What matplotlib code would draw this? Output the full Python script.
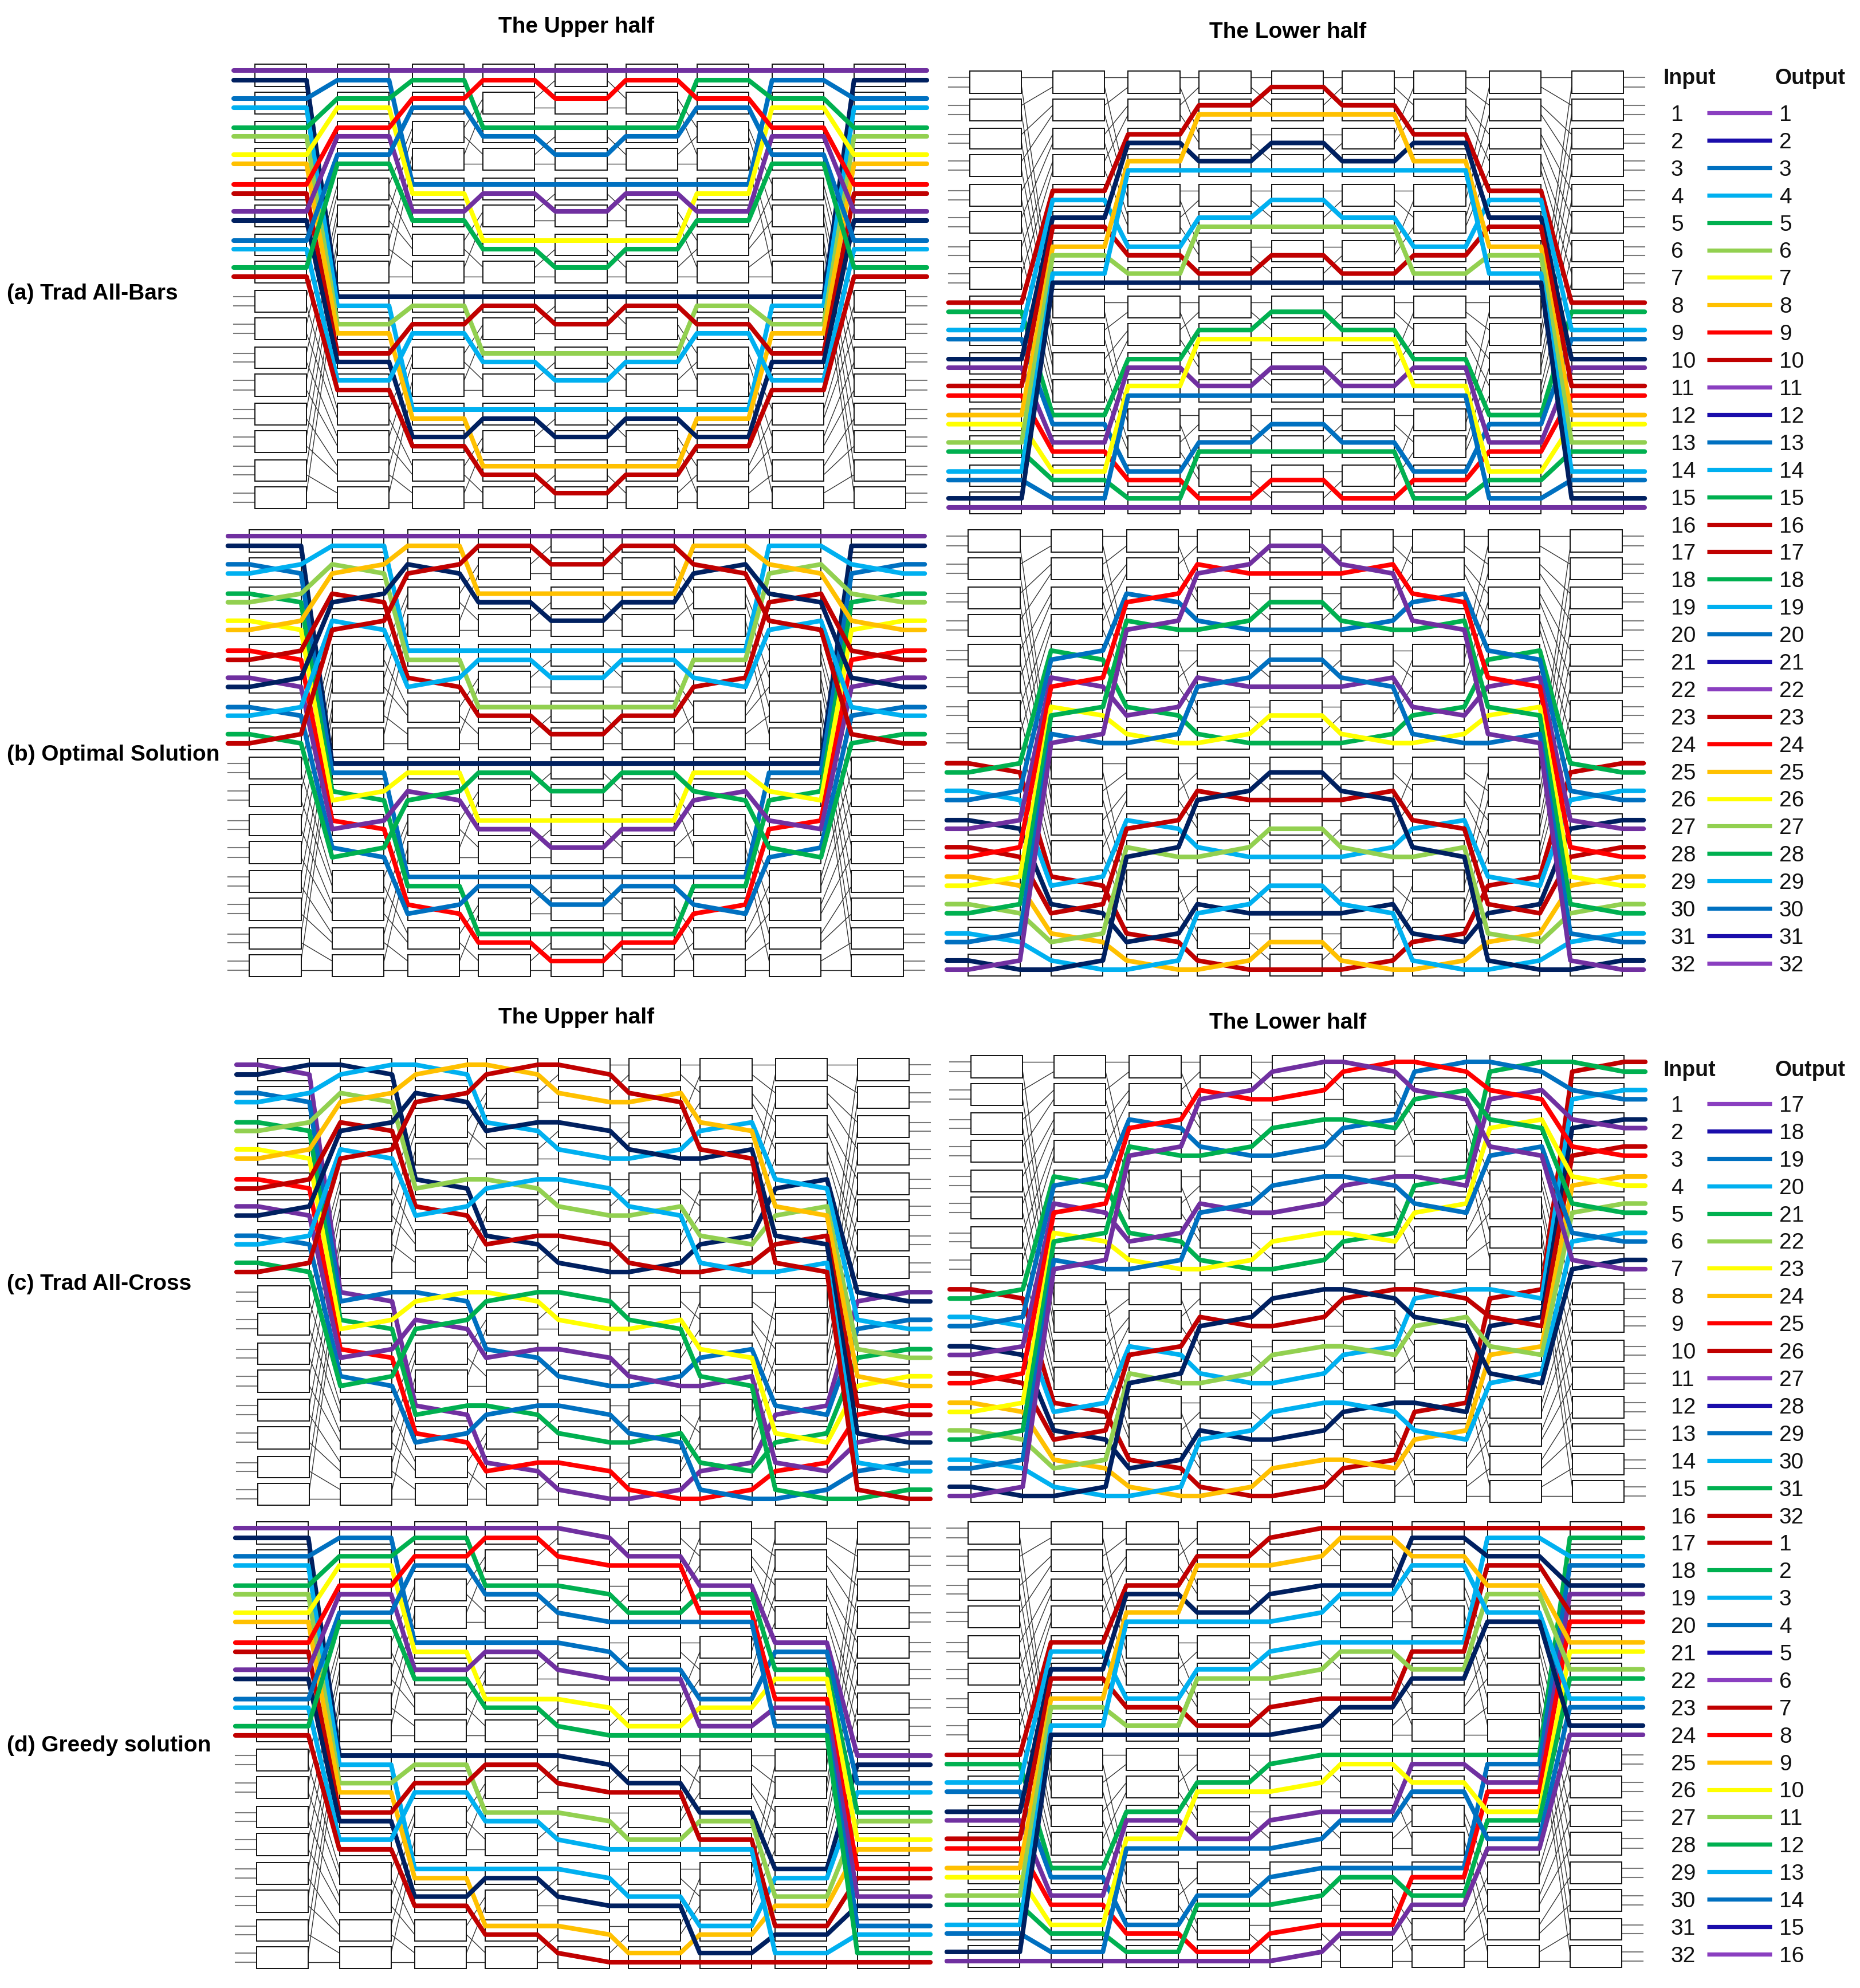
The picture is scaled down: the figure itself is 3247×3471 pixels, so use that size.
import matplotlib
matplotlib.use('Agg')
import matplotlib.pyplot as plt
from matplotlib.patches import Rectangle

W, H = 3248, 3471
plt.rcParams['font.family'] = ['Liberation Sans', 'DejaVu Sans']

# colours of the 32 inputs
PURPLE = '#7030A0'
NAVY = '#002060'
BLUE = '#0070C0'
CYAN = '#00B0F0'
GREEN = '#00B050'
LIME = '#92D050'
YELLOW = '#FFFF00'
ORANGE = '#FFC000'
RED = '#FF0000'
DARKRED = '#C00000'

upper_colors = [PURPLE, NAVY, BLUE, CYAN, GREEN, LIME, YELLOW, ORANGE,
                RED, DARKRED, PURPLE, NAVY, BLUE, CYAN, GREEN, DARKRED]
lower_colors = [DARKRED, GREEN, CYAN, BLUE, NAVY, PURPLE, DARKRED, RED,
                ORANGE, YELLOW, LIME, GREEN, CYAN, BLUE, NAVY, PURPLE]
legend_colors = ['#8A3FC0', '#1A0DAB', BLUE, CYAN, GREEN, LIME, YELLOW, ORANGE,
                 RED, DARKRED, '#8A3FC0', '#1A0DAB', BLUE, CYAN, GREEN, DARKRED,
                 DARKRED, GREEN, CYAN, BLUE, '#1A0DAB', '#8A3FC0', DARKRED, RED,
                 ORANGE, YELLOW, LIME, GREEN, CYAN, BLUE, '#1A0DAB', '#8A3FC0']

inputs = list(range(1, 33))
outputs_straight = list(range(1, 33))
outputs_swapped = list(range(17, 33)) + list(range(1, 17))

# which boxes are switched to cross, per stage (9 stages, 16 boxes each)
ALL_BOXES = list(range(16))
a_upper_crossed = [[], [], [], [], [], [], [], [], []]
a_lower_crossed = [[], [], [], [], [], [], [], [], []]
b_upper_crossed = [[1, 2, 3, 4, 5, 6, 7], [1, 2, 3, 9, 10, 11], [1, 5, 9, 13], [], [],
                   [], [1, 5, 9, 13], [1, 2, 3, 9, 10, 11], [1, 2, 3, 4, 5, 6, 7]]
b_lower_crossed = [[8, 9, 10, 11, 12, 13, 14, 15], [4, 5, 6, 7, 12, 13, 14, 15],
                   [2, 3, 6, 7, 10, 11, 14, 15], [1, 3, 5, 7, 9, 11, 13, 15], [],
                   [1, 3, 5, 7, 9, 11, 13, 15], [2, 3, 6, 7, 10, 11, 14, 15],
                   [4, 5, 6, 7, 12, 13, 14, 15], [8, 9, 10, 11, 12, 13, 14, 15]]
c_upper_crossed = [ALL_BOXES] * 9
c_lower_crossed = [ALL_BOXES] * 9
d_upper_crossed = [[], [], [], [], ALL_BOXES, [], [], [], []]
d_lower_crossed = [[], [], [], [], ALL_BOXES, [], [], [], []]

# port height inside a panel, and left edge of the stages
LEVELS = [0, 17, 49, 65, 100, 115, 147, 163, 199, 215, 246, 262, 297, 312, 344, 360,
          395, 411, 443, 459, 494, 509, 541, 558, 592, 608, 640, 656, 691, 706, 738, 754]
STAGE_LEFT = [0, 144, 275, 398, 524, 647, 771, 902, 1045]
BOX_W = 90
BOX_PAD = 11
STUB = 37
MARGIN = 20

# left, right, top, bottom in pixels of the picture
panels = [
    (a_upper_crossed, upper_colors, 0, (445, 1581, 123, 877)),
    (a_lower_crossed, lower_colors, 16, (1693, 2834, 135, 886)),
    (b_upper_crossed, upper_colors, 0, (435, 1577, 936, 1694)),
    (b_lower_crossed, lower_colors, 16, (1690, 2832, 936, 1693)),
    (c_upper_crossed, upper_colors, 0, (450, 1587, 1859, 2617)),
    (c_lower_crossed, lower_colors, 16, (1695, 2835, 1854, 2612)),
    (d_upper_crossed, upper_colors, 0, (448, 1587, 2668, 3426)),
    (d_lower_crossed, lower_colors, 16, (1690, 2831, 2668, 3424)),
]

titles = [('The Upper half', 1006, 47), ('The Lower half', 2248, 56),
          ('The Upper half', 1006, 1777), ('The Lower half', 2248, 1786)]
row_labels = [('(a) Trad All-Bars', 513), ('(b) Optimal Solution', 1318),
              ('(c) Trad All-Cross', 2242), ('(d) Greedy solution', 3048)]


def next_port(stage, port):
    # wiring between stage and stage + 1
    sizes = [32, 16, 8, 4, 4, 8, 16, 32]
    size = sizes[stage]
    base = port - port % size
    r = port % size
    if stage < 4:
        new = r // 2 if r % 2 == 0 else size // 2 + r // 2
    else:
        new = 2 * r if r < size // 2 else 2 * (r - size // 2) + 1
    return base + new


def draw_panel(fig, crossed, colors, first_port, box):
    left, right, top, bottom = box
    sx = (right - left) / (STAGE_LEFT[-1] + BOX_W)
    sy = (bottom - top) / LEVELS[-1]

    # axes covers stubs and box overhang
    x0 = left - (STUB + MARGIN) * sx
    x1 = right + (STUB + MARGIN) * sx
    y0 = top - MARGIN * sy
    y1 = bottom + MARGIN * sy
    ax = fig.add_axes([x0 / W, 1 - y1 / H, (x1 - x0) / W, (y1 - y0) / H])
    ax.set_xlim(-STUB - MARGIN, STAGE_LEFT[-1] + BOX_W + STUB + MARGIN)
    ax.set_ylim(LEVELS[-1] + MARGIN, -MARGIN)
    ax.axis('off')

    # grey stubs on both sides
    for p in range(32):
        ax.plot([-STUB, 0], [LEVELS[p]] * 2, color='#7a7a7a', lw=1.5, zorder=1)
        ax.plot([STAGE_LEFT[-1] + BOX_W, STAGE_LEFT[-1] + BOX_W + STUB], [LEVELS[p]] * 2,
                color='#7a7a7a', lw=1.5, zorder=1)

    # thin wires between stages
    for s in range(8):
        for p in range(32):
            ax.plot([STAGE_LEFT[s] + BOX_W, STAGE_LEFT[s + 1]],
                    [LEVELS[p], LEVELS[next_port(s, p)]],
                    color='#333333', lw=1.0, zorder=1)

    # boxes
    for s in range(9):
        for b in range(16):
            ytop = LEVELS[2 * b] - BOX_PAD
            ax.add_patch(Rectangle((STAGE_LEFT[s], ytop), BOX_W,
                                   LEVELS[2 * b + 1] + BOX_PAD - ytop,
                                   facecolor='white', edgecolor='#111111', lw=1.4, zorder=2))

    # coloured paths
    for i, color in enumerate(colors):
        port = first_port + i
        xs = [-STUB]
        ys = [LEVELS[port]]
        for s in range(9):
            xs.append(STAGE_LEFT[s])
            ys.append(LEVELS[port])
            if port // 2 in crossed[s]:
                port = port ^ 1
            xs.append(STAGE_LEFT[s] + BOX_W)
            ys.append(LEVELS[port])
            if s < 8:
                port = next_port(s, port)
        xs.append(STAGE_LEFT[-1] + BOX_W + STUB)
        ys.append(LEVELS[port])
        ax.plot(xs, ys, color=color, lw=5.8, zorder=3 + i * 0.01,
                solid_capstyle='round', solid_joinstyle='round')


def draw_legend(ax, outputs, head_y, first_y):
    ax.text(2949, head_y, 'Input', ha='center', va='center', fontsize=27, fontweight='bold', color='#111111')
    ax.text(3160, head_y, 'Output', ha='center', va='center', fontsize=27, fontweight='bold', color='#111111')
    pitch = 47.9
    for i in range(len(inputs)):
        y = first_y + i * pitch
        ax.text(2917, y + 4, str(inputs[i]), ha='left', va='center', fontsize=28, color='#111111')
        ax.plot([2980, 3093], [y, y], color=legend_colors[i], lw=5.2, solid_capstyle='butt')
        ax.text(3106, y + 4, str(outputs[i]), ha='left', va='center', fontsize=28, color='#111111')


def main():
    fig = plt.figure(figsize=(W / 100, H / 100), dpi=100)

    back = fig.add_axes([0, 0, 1, 1])
    back.set_xlim(0, W)
    back.set_ylim(H, 0)
    back.axis('off')

    for crossed, colors, first_port, box in panels:
        draw_panel(fig, crossed, colors, first_port, box)

    for text, x, y in titles:
        back.text(x, y, text, ha='center', va='center', fontsize=28, fontweight='bold')
    for text, y in row_labels:
        back.text(12, y, text, ha='left', va='center', fontsize=28, fontweight='bold')

    draw_legend(back, outputs_straight, 137, 197)
    draw_legend(back, outputs_swapped, 1869, 1927)

    fig.savefig('out.png', dpi=100)


if __name__ == "__main__":
    main()
